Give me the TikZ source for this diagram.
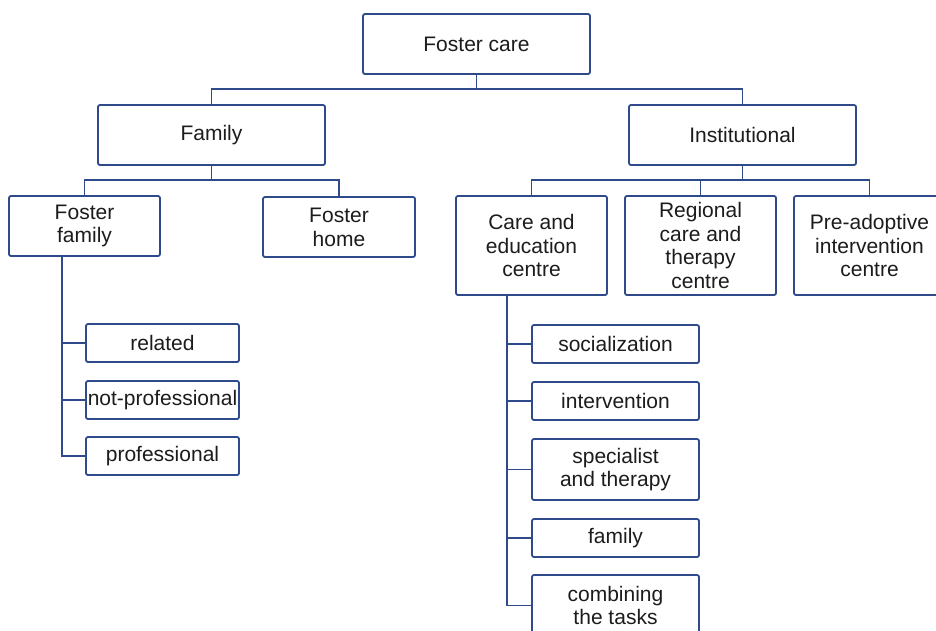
\documentclass[tikz,border=0pt]{standalone}
\usepackage{fontspec}
\setmainfont{Liberation Sans}
\usetikzlibrary{calc}
\definecolor{lineblue}{HTML}{2E4A8A}
\definecolor{txt}{HTML}{1C1C1C}
\tikzset{
  box/.style={draw=lineblue, line width=1.8pt, rounded corners=2pt, rectangle,
    inner sep=0pt, align=center, text=txt,
    font=\fontsize{21}{23.8}\selectfont},
  conn/.style={draw=lineblue, line width=1.8pt},
}
\begin{document}
\begin{tikzpicture}[x=1pt,y=1pt]
\useasboundingbox (0,0) rectangle (936,-630);
\clip (0,0) rectangle (936,-630);
\fill[white] (0,0) rectangle (936,-630);
% top levels
\node[box, minimum width=227, minimum height=60] (fc) at (476.5,-44) {Foster care};
\node[box, minimum width=227, minimum height=60] (fam) at (211.5,-135) {Family};
\node[box, minimum width=227, minimum height=60] (inst) at (742.5,-135) {Institutional};
% third level
\node[box, minimum width=151, minimum height=60] (ff) at (84.5,-226) {Foster\\family};
\node[box, minimum width=152, minimum height=60] (fh) at (339,-227) {Foster\\home};
\node[box, minimum width=151, minimum height=99] (ce) at (531.5,-245.5) {Care and\\education\\centre};
\node[box, minimum width=151, minimum height=99] (rc) at (700.5,-245.5) {Regional\\care and\\therapy\\centre};
\node[box, minimum width=151, minimum height=99] (pa) at (869.5,-245.5) {Pre-adoptive\\intervention\\centre};
% foster family children
\node[box, minimum width=153, minimum height=38] (rel) at (162.5,-343) {related};
\node[box, minimum width=153, minimum height=38] (np) at (162.5,-400) {not-professional};
\node[box, minimum width=153, minimum height=38] (pro) at (162.5,-456) {professional};
% care and education children
\node[box, minimum width=167, minimum height=38] (soc) at (615.5,-344) {socialization};
\node[box, minimum width=167, minimum height=38] (int) at (615.5,-401) {intervention};
\node[box, minimum width=167, minimum height=61] (spe) at (615.5,-469.5) {specialist\\and therapy};
\node[box, minimum width=167, minimum height=38] (fmy) at (615.5,-538) {family};
\node[box, minimum width=167, minimum height=61] (com) at (615.5,-605.5) {combining\\the tasks};
% buses
\coordinate (b1) at (0,-89);
\coordinate (b2) at (0,-180);
\draw[conn] (fc.south) -- (fc.south |- b1);
\draw[conn] (fam.north) -- (fam.north |- b1) -- (inst.north |- b1) -- (inst.north);
\draw[conn] (fam.south) -- (fam.south |- b2);
\draw[conn] (ff.north) -- (ff.north |- b2) -- (fh.north |- b2) -- (fh.north);
\draw[conn] (inst.south) -- (inst.south |- b2);
\draw[conn] (ce.north) -- (ce.north |- b2) -- (pa.north |- b2) -- (pa.north);
\draw[conn] (rc.north) -- (rc.north |- b2);
% side trunks
\coordinate (fft) at (ff.south -| 62,0);
\draw[conn] (fft) |- (pro.west);
\draw[conn] (fft |- rel.west) -- (rel.west);
\draw[conn] (fft |- np.west) -- (np.west);
\coordinate (cet) at (ce.south -| 507,0);
\draw[conn] (cet) |- (com.west);
\draw[conn] (cet |- soc.west) -- (soc.west);
\draw[conn] (cet |- int.west) -- (int.west);
\draw[conn] (cet |- spe.west) -- (spe.west);
\draw[conn] (cet |- fmy.west) -- (fmy.west);
\end{tikzpicture}
\end{document}
